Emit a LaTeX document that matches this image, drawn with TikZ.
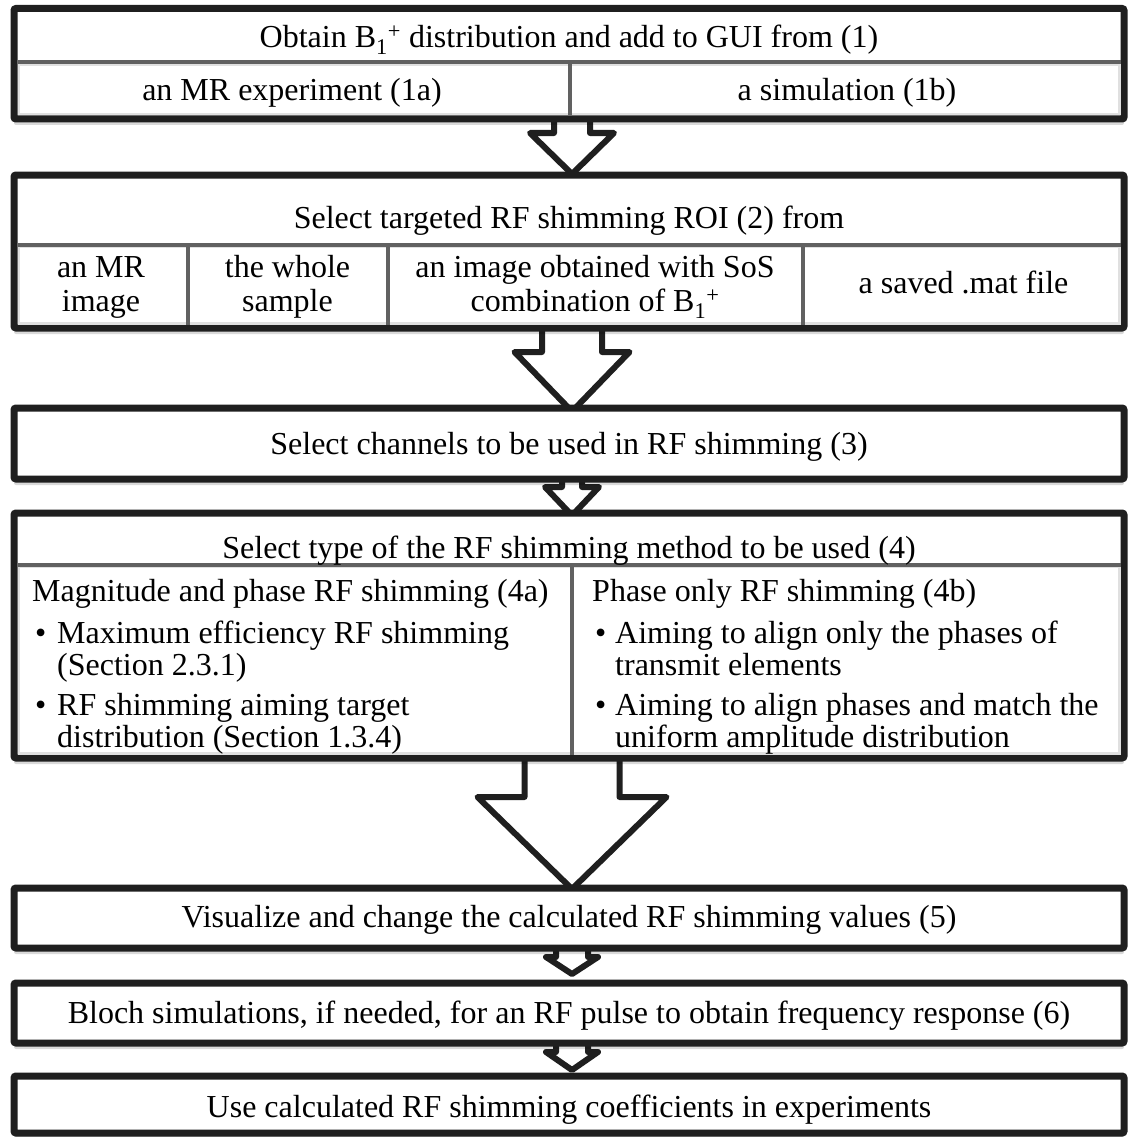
\documentclass[tikz,border=0pt]{standalone}
\usepackage{fontspec}
\setmainfont{Liberation Serif}
\usetikzlibrary{calc,shadows,backgrounds}
\newcommand\diagfont{\fontsize{32}{34}\selectfont}
\newcommand\listfont{\fontsize{32}{32}\selectfont}
\newcommand\Bone{B\textsubscript{1}\textsuperscript{+}}
% #1 upper box, #2 lower box, #3 shaft half width, #4 head half width,
% #5 head top below upper box, #6 tip below lower box top
\newcommand\blockarrow[6]{%
  \path[blockarr] let \p1=(#1.south), \p2=(#2.north) in
    ({\x1+3pt-#3pt},{\y1+6pt}) -- ({\x1+3pt-#3pt},{\y1-#5pt}) -- ({\x1+3pt-#4pt},{\y1-#5pt})
    -- ({\x1+3pt},{\y2-(#6pt)}) -- ({\x1+3pt+#4pt},{\y1-#5pt}) -- ({\x1+3pt+#3pt},{\y1-#5pt})
    -- ({\x1+3pt+#3pt},{\y1+6pt}) -- cycle;}
\begin{document}
\begin{tikzpicture}[x=1pt,y=-1pt,
  box/.style={draw=black!88, line width=7pt, fill=white, rounded corners=2pt,
    inner sep=0pt, minimum width=1110pt,
    drop shadow={shadow xshift=0pt, shadow yshift=-6pt, opacity=0.15, fill=black}},
  divider/.style={draw=black!62, line width=4pt},
  band/.style={draw=black!12, line width=2.5pt},
  blockarr/.style={draw=black!88, line width=6pt, fill=white, line join=round},
  txt/.style={font=\diagfont, inner sep=0pt, align=center},
]
\useasboundingbox (0,0) rectangle (1129,1137);

% boxes
\node[box, minimum height=110.5pt] (b1) at (569,63.75) {};
\node[box, minimum height=153pt]   (b2) at (569,251.5) {};
\node[box, minimum height=71pt]    (b3) at (569,443.5) {};
\node[box, minimum height=245pt]   (b4) at (569,635.5) {};
\node[box, minimum height=60pt]    (b5) at (569,918) {};
\node[box, minimum height=60pt]    (b6) at (569,1013) {};
\node[box, minimum height=57pt]    (b7) at (569,1104.5) {};

% arrows behind the boxes
\begin{scope}[on background layer]
\blockarrow{b1}{b2}{18}{42}{10.5}{2.5}
\blockarrow{b2}{b3}{30}{57.5}{20.5}{7}
\blockarrow{b3}{b4}{10}{27}{4.5}{6}
\blockarrow{b4}{b5}{47.5}{94.5}{35.5}{4.5}
\blockarrow{b5}{b6}{16}{26}{5.5}{-5.5}
\blockarrow{b6}{b7}{16}{26}{5.5}{-2.5}
\end{scope}

% light cell borders of the lower rows
\draw[band] (18.75,64.5) rectangle (1119.25,114.25);
\draw[band] (18.75,247) rectangle (1119.25,323.25);
\draw[band] (18.75,567) rectangle (1119.25,753.25);

% dividers
\draw[divider] (17.5,62.5) -- (1120.5,62.5);
\draw[divider] (570,62.5) -- (570,115.5);
\draw[divider] (17.5,245) -- (1120.5,245);
\draw[divider] (187.5,245) -- (187.5,324.5);
\draw[divider] (387.5,245) -- (387.5,324.5);
\draw[divider] (803,245) -- (803,324.5);
\draw[divider] (17.5,565) -- (1120.5,565);
\draw[divider] (572,565) -- (572,754.5);

% texts
\node[txt, anchor=base] (t1) at (569,48) {Obtain \Bone{} distribution and add to GUI from (1)};
\node[txt, anchor=base] (t1a) at (292,101) {an MR experiment (1a)};
\node[txt, anchor=base] (t1b) at (847,101) {a simulation (1b)};

\node[txt, anchor=base] (t2) at (569,228) {Select targeted RF shimming ROI (2) from};
\node[txt] (t2a) at (101,287) {an MR\\image};
\node[txt] (t2b) at (287.5,287) {the whole\\sample};
\node[txt] (t2c) at (595,287) {an image obtained with SoS\\combination of \Bone};
\node[txt, anchor=base] (t2d) at (963.5,293) {a saved .mat file};

\node[txt, anchor=base] (t3) at (569,454) {Select channels to be used in RF shimming (3)};

\node[txt, anchor=base] (t4) at (569,558) {Select type of the RF shimming method to be used (4)};
\node[txt, font=\listfont, anchor=base west, align=left] (t4a) at (32,601) {%
\begin{tabular}[t]{@{}l@{}l@{}}
\multicolumn{2}{@{}l@{}}{Magnitude and phase RF shimming (4a)}\\[10pt]
\makebox[25pt][l]{\hspace{3pt}\textbullet} & Maximum efficiency RF shimming\\
 & (Section 2.3.1)\\[8pt]
\makebox[25pt][l]{\hspace{3pt}\textbullet} & RF shimming aiming target\\
 & distribution (Section 1.3.4)
\end{tabular}};
\node[txt, font=\listfont, anchor=base west, align=left] (t4b) at (592,601) {%
\begin{tabular}[t]{@{}l@{}l@{}}
\multicolumn{2}{@{}l@{}}{Phase only RF shimming (4b)}\\[10pt]
\makebox[23pt][l]{\hspace{3pt}\textbullet} & Aiming to align only the phases of\\
 & transmit elements\\[8pt]
\makebox[23pt][l]{\hspace{3pt}\textbullet} & Aiming to align phases and match the\\
 & uniform amplitude distribution
\end{tabular}};

\node[txt, anchor=base] (t5) at (569,927) {Visualize and change the calculated RF shimming values (5)};
\node[txt, anchor=base] (t6) at (569,1023) {Bloch simulations, if needed, for an RF pulse to obtain frequency response (6)};
\node[txt, anchor=base] (t7) at (569,1117) {Use calculated RF shimming coefficients in experiments};
\end{tikzpicture}
\end{document}
